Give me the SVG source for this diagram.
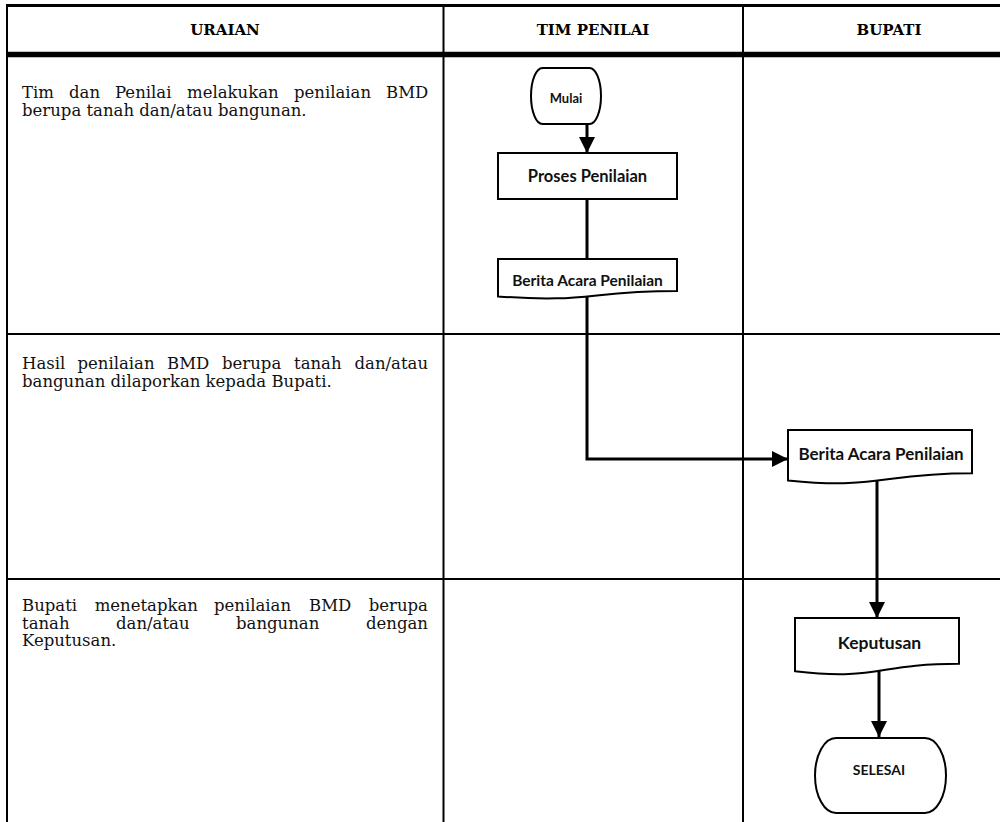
<svg xmlns="http://www.w3.org/2000/svg" width="1000" height="822" viewBox="0 0 1000 822">
  <style>
    .grid { stroke: #000; stroke-width: 2; fill: none; }
    .head { font-family: "DejaVu Serif", "Liberation Serif", serif; font-weight: bold; font-size: 15px; text-anchor: middle; fill: #000; }
    .desc { font-family: "DejaVu Serif", "Liberation Serif", serif; font-size: 16.5px; fill: #111; }
    .shape { fill: #fff; stroke: #000; stroke-width: 2; }
    .label { font-family: Lato, "Open Sans", sans-serif; font-weight: bold; text-anchor: middle; fill: #111; }
    .flow { fill: none; stroke: #000; stroke-width: 3; }
  </style>
  <defs>
    <marker id="arrow" markerUnits="userSpaceOnUse" markerWidth="18" markerHeight="18" refX="16" refY="8" orient="auto">
      <path d="M0,0 L16,8 L0,16 Z" fill="#000"/>
    </marker>
  </defs>

  <rect width="1000" height="822" fill="#fff"/>

  <!-- table frame -->
  <g id="table">
    <line class="grid" x1="7" y1="5.5" x2="1000" y2="5.5" style="stroke-width:3"/>
    <line class="grid" x1="7" y1="54.5" x2="1000" y2="54.5" style="stroke-width:5.5"/>
    <line class="grid" x1="7" y1="4" x2="7" y2="822"/>
    <line class="grid" x1="443.5" y1="4" x2="443.5" y2="822"/>
    <line class="grid" x1="743" y1="4" x2="743" y2="822"/>
    <line class="grid" x1="7" y1="334" x2="1000" y2="334"/>
    <line class="grid" x1="7" y1="579" x2="1000" y2="579"/>
    <text class="head" x="225" y="35">URAIAN</text>
    <text class="head" x="593" y="35">TIM PENILAI</text>
    <text class="head" x="889" y="35">BUPATI</text>
  </g>

  <!-- step descriptions (justified lines are set word by word) -->
  <g id="desc-1">
    <text class="desc" y="98"><tspan x="22">Tim</tspan><tspan x="69">dan</tspan><tspan x="115">Penilai</tspan><tspan x="187">melakukan</tspan><tspan x="294">penilaian</tspan><tspan x="386">BMD</tspan></text>
    <text class="desc" x="22" y="115.5">berupa tanah dan/atau bangunan.</text>
  </g>
  <g id="desc-2">
    <text class="desc" y="369"><tspan x="22">Hasil</tspan><tspan x="77.5">penilaian</tspan><tspan x="167">BMD</tspan><tspan x="222">berupa</tspan><tspan x="294">tanah</tspan><tspan x="354.5">dan/atau</tspan></text>
    <text class="desc" x="22" y="386.5">bangunan dilaporkan kepada Bupati.</text>
  </g>
  <g id="desc-3">
    <text class="desc" y="611"><tspan x="22">Bupati</tspan><tspan x="94.7">menetapkan</tspan><tspan x="214">penilaian</tspan><tspan x="309">BMD</tspan><tspan x="368.7">berupa</tspan></text>
    <text class="desc" y="628.5"><tspan x="22">tanah</tspan><tspan x="116">dan/atau</tspan><tspan x="236">bangunan</tspan><tspan x="366">dengan</tspan></text>
    <text class="desc" x="22" y="646">Keputusan.</text>
  </g>

  <!-- connectors -->
  <g id="connectors">
    <path class="flow" d="M587,114 V153" marker-end="url(#arrow)"/>
    <path class="flow" d="M587,199 V259"/>
    <path class="flow" d="M587,297 V459 H788" marker-end="url(#arrow)"/>
    <path class="flow" d="M877,481 V618" marker-end="url(#arrow)"/>
    <path class="flow" d="M879,665 V737" marker-end="url(#arrow)"/>
  </g>

  <!-- nodes -->
  <g id="mulai">
    <rect class="shape" x="531" y="68" width="70" height="56" rx="11.5" ry="28"/>
    <text class="label" x="566" y="102.5" font-size="13">Mulai</text>
  </g>
  <g id="proses-penilaian">
    <rect class="shape" x="498" y="153" width="179" height="46"/>
    <text class="label" x="587.5" y="182" font-size="16.5">Proses Penilaian</text>
  </g>
  <g id="berita-acara-tim">
    <path class="shape" d="M498,259 H677 V291.1 C587.5,291.1 587.5,303.3 498,296.4 Z"/>
    <text class="label" x="587.5" y="286" font-size="15.5">Berita Acara Penilaian</text>
  </g>
  <g id="berita-acara-bupati">
    <path class="shape" d="M788,430 H972 V473.3 C880,473.3 880,489.8 788,480.4 Z"/>
    <text class="label" x="881" y="460" font-size="17">Berita Acara Penilaian</text>
  </g>
  <g id="keputusan">
    <path class="shape" d="M795,618 H959 V663.7 C877,663.7 877,681.1 795,671.2 Z"/>
    <text class="label" x="879.5" y="649" font-size="17.5">Keputusan</text>
  </g>
  <g id="selesai">
    <rect class="shape" x="815" y="738" width="131" height="75" rx="21" ry="37.5"/>
    <text class="label" x="879" y="775" font-size="14">SELESAI</text>
  </g>
</svg>
